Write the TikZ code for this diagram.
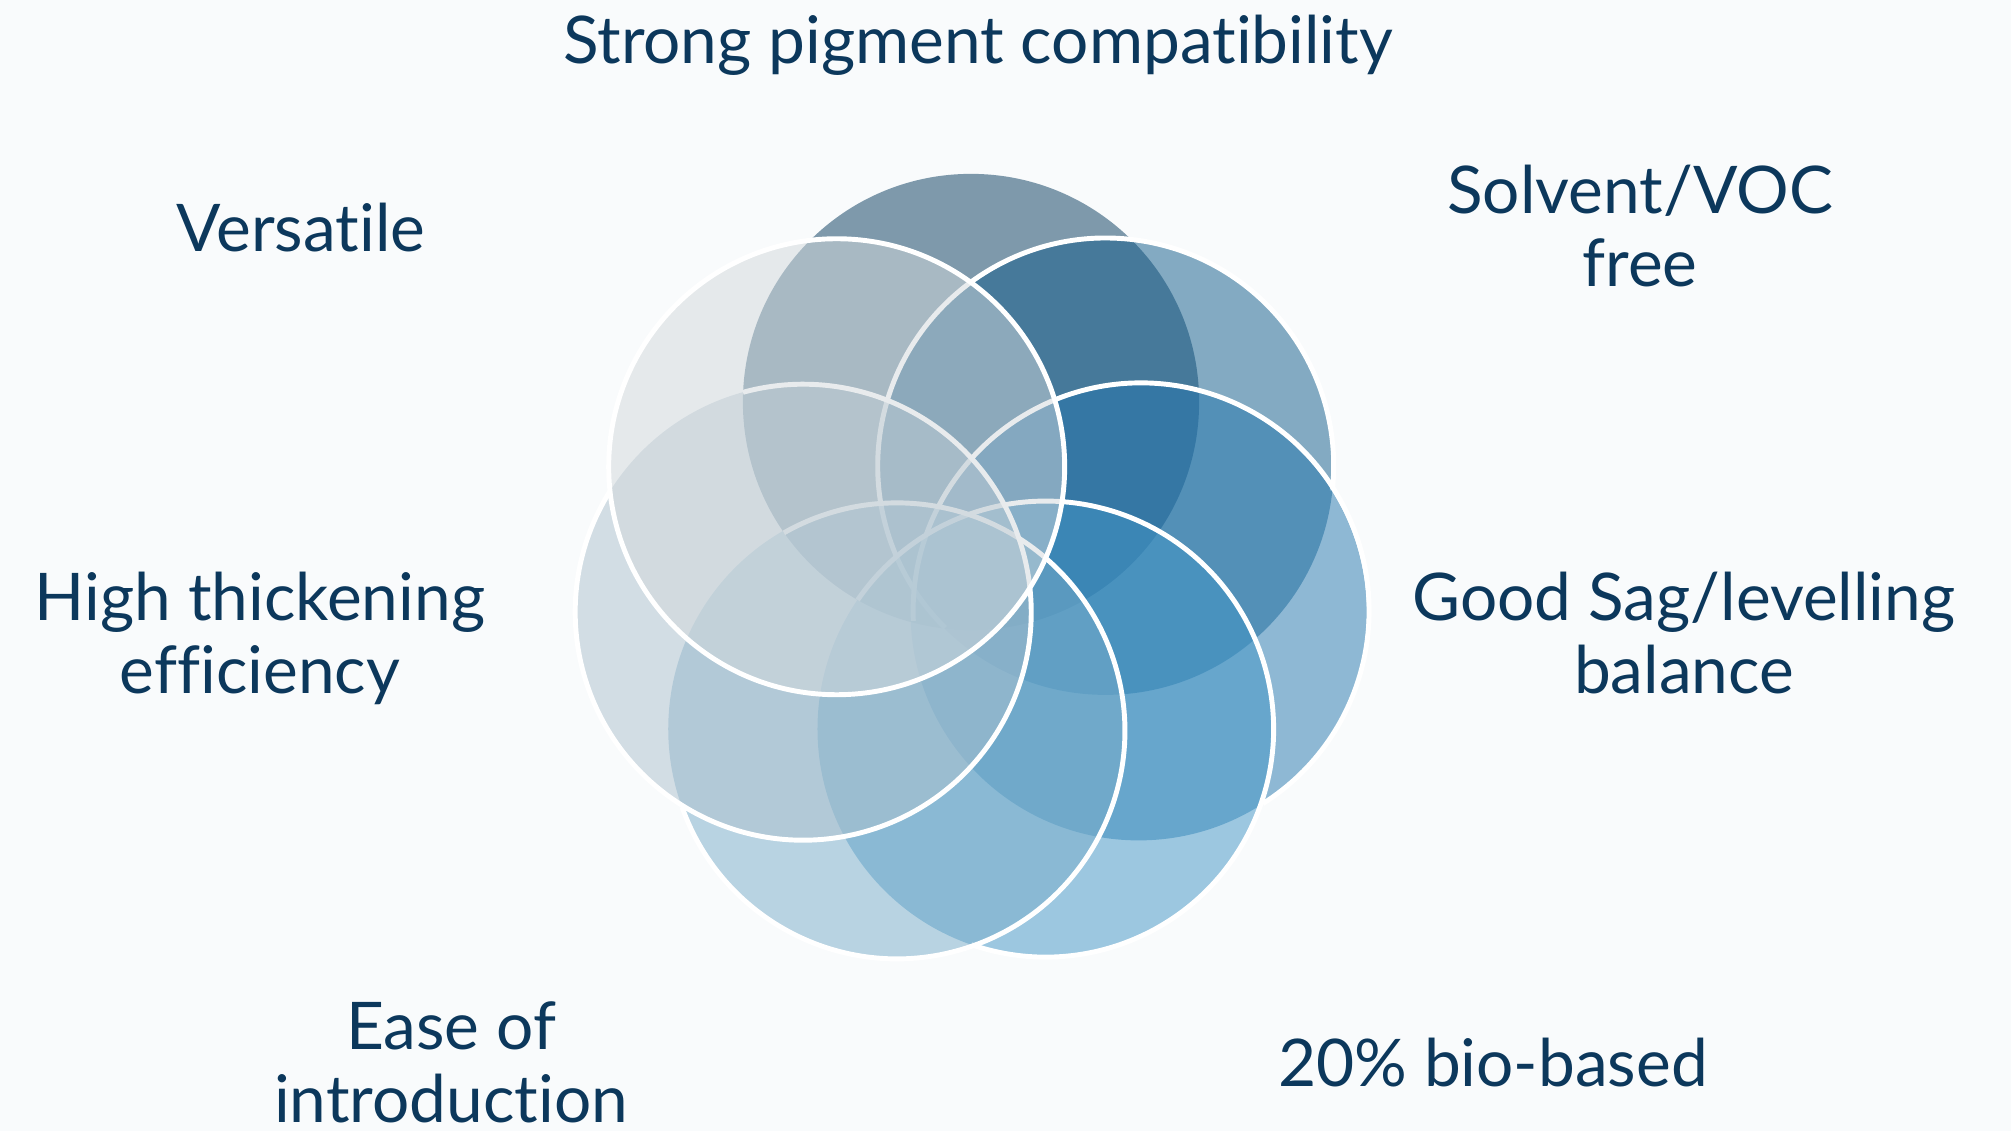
\documentclass[tikz,border=0pt]{standalone}
\usepackage{fontspec}
\setmainfont{Lato}[Ligatures=NoCommon]
\usetikzlibrary{calc}

\definecolor{paper}{RGB}{249,251,252}
\definecolor{ink}{RGB}{12,56,92}
\definecolor{petal1}{RGB}{5,57,92}
\definecolor{petal2}{RGB}{15,91,138}
\definecolor{petal3}{RGB}{37,119,174}
\definecolor{petal4}{RGB}{65,149,198}
\definecolor{petal5}{RGB}{121,173,202}
\definecolor{petal6}{RGB}{173,193,206}
\definecolor{petal7}{RGB}{211,217,220}

\tikzset{
  petal/.style={circle, fill=#1, fill opacity=0.5, minimum size=4.56cm, inner sep=0pt, outer sep=0pt},
  rim/.style={draw=white, line width=1.4pt},
  blurb/.style={text=ink, font=\fontsize{18.7}{21}\selectfont, align=center, anchor=base},
}

\begin{document}
\begin{tikzpicture}[x=0.01cm, y=0.01cm]
    \path[use as bounding box, fill=paper] (0,0) rectangle (2011,-1131);
    \coordinate (hub) at (971,-574);

    \node[petal=petal1] (p1) at ($(hub)+(90:172)$) {}; % top petal, no rim
    \foreach \n/\from/\to in {2/-6.2/225.2, 3/-57.7/182.5, 4/-109/145.5, 5/-160.5/119.7, 6/-212/105.3, 7/0/360}{
      \node[petal=petal\n] (p\n) at ($(hub)+({141.43-\n*51.43}:172)$) {};
      \draw[rim] (p\n.\from) arc[start angle=\from, end angle=\to, radius=228]; % only the rim that shows
    }

    % base of a two-line blurb is its last line
    \node[blurb] (pigment) at (978,-64) {Strong pigment compatibility};
    \node[blurb] (versatile) at (301,-252) {Versatile};
    \node[blurb] (voc) at (1640,-287) {Solvent/VOC\\free};
    \node[blurb] (sag) at (1684,-694) {Good Sag/levelling\\balance};
    \node[blurb] (thick) at (260,-694) {High thickening\\efficiency};
    \node[blurb] (ease) at (451,-1123) {Ease of\\introduction};
    \node[blurb] (bio) at (1493,-1087) {20\% bio-based};
\end{tikzpicture}
\end{document}
